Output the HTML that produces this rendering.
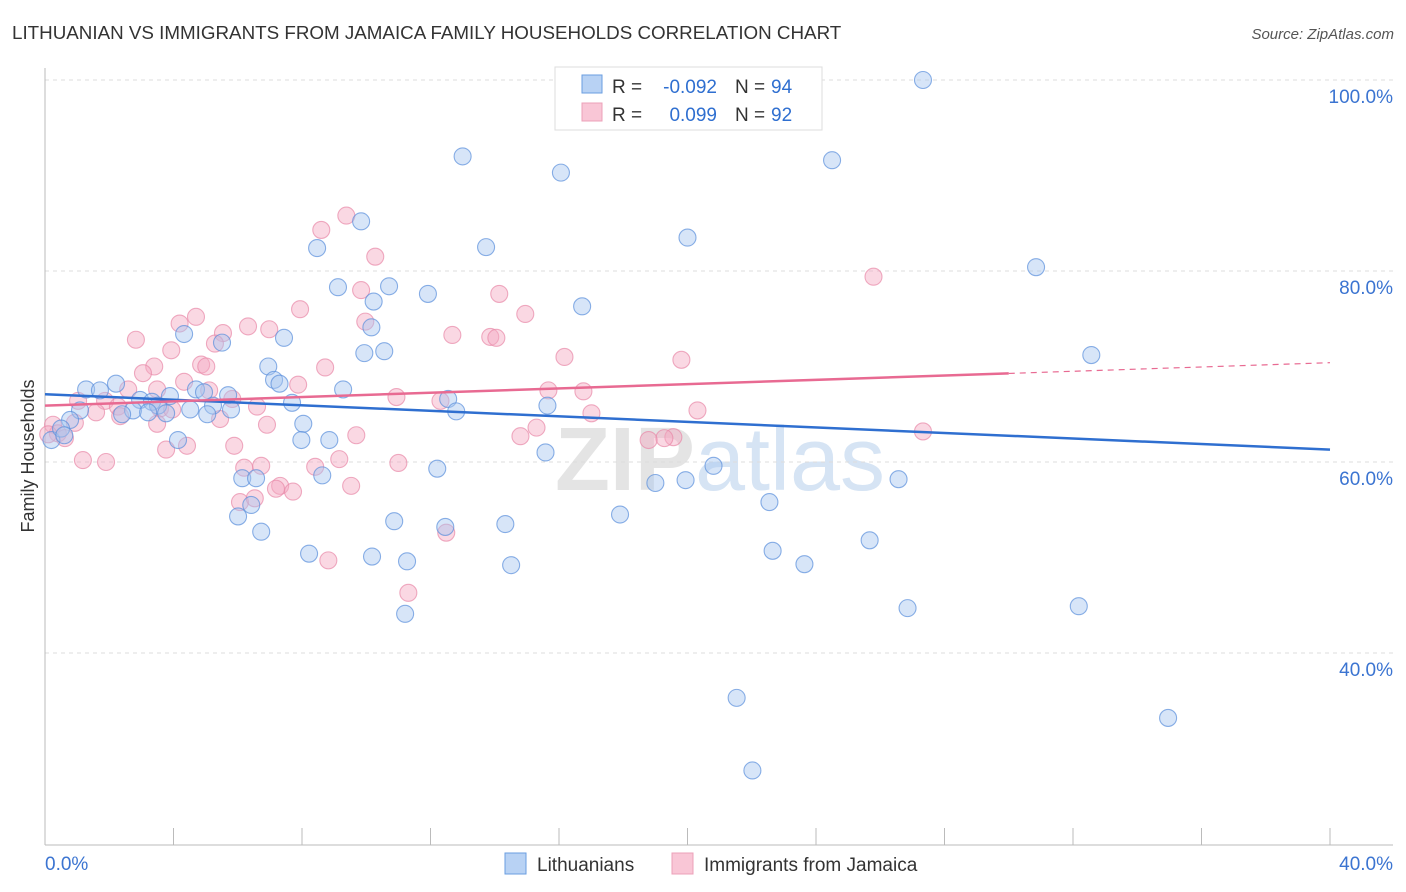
<!DOCTYPE html>
<html><head><meta charset="utf-8"><style>
body{margin:0;background:#fff;font-family:"Liberation Sans",sans-serif;}
svg{display:block}
</style></head><body>
<svg id="c" width="1406" height="892" xmlns="http://www.w3.org/2000/svg">
<text x="12" y="39" font-size="18.8" fill="#333">LITHUANIAN VS IMMIGRANTS FROM JAMAICA FAMILY HOUSEHOLDS CORRELATION CHART</text>
<text x="1394" y="39" font-size="15" fill="#555" font-style="italic" text-anchor="end">Source: ZipAtlas.com</text>
<text x="720" y="490" font-size="90" fill="#e4e4e4" text-anchor="middle" font-weight="bold">ZIP<tspan fill="#d6e4f4" font-weight="normal">atlas</tspan></text>
<g id="grid"></g>
<g id="axes"></g>
<g id="pts"></g>
<g id="trend"></g>
<text transform="translate(34,456) rotate(-90)" font-size="18" fill="#333" text-anchor="middle">Family Households</text>
<g font-size="19">
<rect x="555" y="67" width="267" height="63" fill="#fff" stroke="#ddd"/>
<rect x="582" y="75" width="20" height="18" fill="#b8d2f4" stroke="#6a9ee0"/>
<rect x="582" y="103" width="20" height="18" fill="#f9c6d6" stroke="#eca0b8"/>
<text x="612" y="93" fill="#333">R =</text>
<text x="717" y="93" fill="#2f6fd0" text-anchor="end">-0.092</text>
<text x="735" y="93" fill="#333">N =</text>
<text x="771" y="93" fill="#2f6fd0">94</text>
<text x="612" y="121" fill="#333">R =</text>
<text x="717" y="121" fill="#2f6fd0" text-anchor="end">0.099</text>
<text x="735" y="121" fill="#333">N =</text>
<text x="771" y="121" fill="#2f6fd0">92</text>
</g>
<g>
<rect x="505" y="853" width="21" height="21" fill="#b8d2f4" stroke="#6a9ee0"/>
<text x="537" y="871" font-size="19" fill="#333">Lithuanians</text>
<rect x="672" y="853" width="21" height="21" fill="#f9c6d6" stroke="#eca0b8"/>
<text x="704" y="871" font-size="19" fill="#333">Immigrants from Jamaica</text>
</g>
</svg>
<script>
const yTicks=[100,80,60,40];
const xTickLabels=["0.0%","40.0%"];
const blueX=[27.33,18.27,13.0,16.06,24.5,9.84,13.73,8.47,20.0,30.85,9.12,10.71,11.92,10.23,16.72,10.16,7.44,5.51,4.33,9.94,10.56,32.57,6.95,7.13,7.30,9.28,4.70,4.95,1.28,2.21,1.71,5.70,3.89,12.55,7.69,2.96,3.33,3.52,15.64,12.80,2.74,4.52,5.23,5.79,3.77,5.05,2.40,3.21,1.09,0.78,0.2,0.5,0.6,8.04,4.14,7.98,8.85,15.58,12.21,20.81,19.94,19.0,26.57,8.63,6.14,6.57,6.42,6.01,22.55,17.9,10.87,12.46,14.33,6.73,25.67,22.65,8.22,10.18,11.27,14.51,23.64,26.85,32.18,11.21,21.53,34.96,22.02];
const blueY=[100,100,92.0,90.3,91.6,85.2,82.5,82.4,83.5,80.4,78.3,78.4,77.6,76.8,76.3,74.1,73.0,72.5,73.4,71.4,71.6,71.2,70.0,68.6,68.2,67.6,67.6,67.3,67.6,68.2,67.5,67.0,66.9,66.6,66.2,66.5,66.3,65.9,65.9,65.3,65.4,65.5,65.9,65.5,65.1,65.0,65.0,65.2,65.4,64.4,62.3,63.5,62.8,64.0,62.3,62.3,62.3,61.0,59.3,59.6,58.1,57.8,58.2,58.6,58.3,58.3,55.5,54.3,55.8,54.5,53.8,53.2,53.5,52.7,51.8,50.7,50.4,50.1,49.6,49.2,49.3,44.7,44.9,44.1,35.3,33.2,27.7];
const pinkX=[9.38,8.6,10.28,25.79,9.84,14.14,7.94,14.95,4.70,4.19,9.97,6.32,6.98,5.54,12.68,2.83,13.86,14.05,5.29,3.93,16.17,19.81,3.40,4.86,5.02,8.72,3.05,4.33,7.88,2.59,5.11,3.49,15.67,16.76,10.94,12.31,5.83,6.60,1.87,1.03,2.27,1.59,17.01,20.31,3.58,3.96,5.45,6.91,2.34,3.49,0.25,0.4,0.62,0.1,0.93,27.33,9.69,14.8,19.56,19.28,18.79,15.3,5.89,4.42,3.77,1.18,1.90,9.16,8.41,11.0,6.73,6.20,7.32,7.72,9.53,7.19,6.07,6.53,12.49,8.82,11.31];
const pinkY=[85.8,84.3,81.5,79.4,78.0,77.6,76.0,75.5,75.2,74.5,74.7,74.2,73.9,73.5,73.3,72.8,73.1,73.0,72.4,71.7,71.0,70.7,70.0,70.2,70.0,69.9,69.3,68.4,68.1,67.6,67.5,67.6,67.5,67.4,66.8,66.4,66.6,65.8,66.4,66.4,65.8,65.2,65.1,65.4,65.6,65.5,64.5,63.9,64.8,64.0,63.9,63.0,62.5,62.9,64.1,63.2,62.8,62.7,62.6,62.5,62.3,63.6,61.7,61.7,61.3,60.2,60.0,60.3,59.5,59.9,59.6,59.4,57.5,56.9,57.5,57.2,55.8,56.2,52.6,49.7,46.3];
const blueTrend=[67.1,61.3];
const pinkTrend=[65.9,70.4];
const X=v=>45+v/40*1285;
const Y=v=>80+(100-v)*9.55;
const NS="http://www.w3.org/2000/svg";
function mk(tag,attrs,parent){const e=document.createElementNS(NS,tag);for(const k in attrs)e.setAttribute(k,attrs[k]);parent.appendChild(e);return e;}
const grid=document.getElementById('grid'),axes=document.getElementById('axes'),pts=document.getElementById('pts'),tr=document.getElementById('trend');
yTicks.forEach(t=>{
 const l=mk('line',{x1:45,x2:1393,y1:Y(t),y2:Y(t),stroke:'#ddd','stroke-dasharray':'4,4'},grid);
 
 
 const tx=mk('text',{x:1393,y:Y(t)+23,'font-size':19,fill:'#3b74d1','text-anchor':'end'},axes);
 tx.textContent=t.toFixed(1)+'%';
 
 
});
const ax=mk('line',{x1:45,x2:1393,y1:845,y2:845,stroke:'#bbb'},axes);


const ay=mk('line',{x1:45,x2:45,y1:68,y2:845,stroke:'#bbb'},axes);


for(let i=0;i<=10;i++){
 const tk=mk('line',{x1:X(i*4),x2:X(i*4),y1:828,y2:845,stroke:'#bbb'},axes);
 
 
}
xTickLabels.forEach((s,i)=>{
 const tx=mk('text',{x:i?1393:45,y:870,'font-size':19,fill:'#3b74d1','text-anchor':i?'end':'start'},axes);
 tx.textContent=s;
 
 
});
function dots(xs,ys,fill,stroke,name){
 xs.forEach((x,i)=>{
  const c=mk('circle',{cx:X(x),cy:Y(ys[i]),r:8.5,fill:fill,'fill-opacity':0.45,stroke:stroke,'stroke-opacity':0.7,'stroke-width':1.1},pts);
  
  
 });
}
dots(pinkX,pinkY,'#f4a9c0','#e889a8','jamaica-point');
dots(blueX,blueY,'#a6c6f0','#5a8fdc','lithuanian-point');
const bl=mk('line',{x1:X(0),y1:Y(blueTrend[0]),x2:X(40),y2:Y(blueTrend[1]),stroke:'#2f6fd0','stroke-width':2.5},tr);


const pm=v=>pinkTrend[0]+(pinkTrend[1]-pinkTrend[0])*v/40;
const pl=mk('line',{x1:X(0),y1:Y(pm(0)),x2:X(30),y2:Y(pm(30)),stroke:'#e86a92','stroke-width':2.5},tr);


const pd=mk('line',{x1:X(30),y1:Y(pm(30)),x2:X(40),y2:Y(pm(40)),stroke:'#e86a92','stroke-width':1.2,'stroke-dasharray':'6,5'},tr);


</script>
</body></html>
